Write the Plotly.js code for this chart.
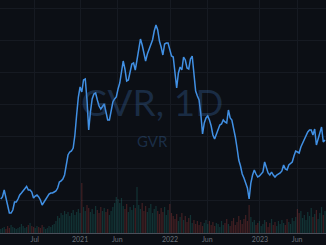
<!DOCTYPE html>
<html>
<head>
<meta charset="utf-8">
<script src="https://cdn.plot.ly/plotly-3.0.1.min.js"></script>
<style>html,body{margin:0;padding:0;background:#0c0f15;}#chart{width:326px;height:245px;}</style>
</head>
<body>
<div id="chart"></div>
<script>
// Weekly closes of GVR (thousand VND), starting 2020-02-14
var startDate = '2020-02-14';
var closes = [
8.2,8.6,10.0,8.6,7.0,5.4,5.4,6.0,7.6,7.6,
8.2,9.0,9.4,9.8,10.2,10.7,10.0,10.0,9.6,8.4,
8.8,9.0,8.6,8.0,7.0,7.6,8.2,8.8,9.2,9.4,
9.4,9.6,9.8,10.4,11.6,11.8,12.2,13.0,14.8,17.0,
17.6,17.8,18.4,21.0,25.0,28.6,30.6,29.6,32.0,32.2,
28.0,22.0,25.6,28.2,29.2,29.4,28.0,26.8,26.2,26.6,
27.2,25.6,24.0,24.0,26.0,27.6,28.2,28.6,30.2,31.4,
33.6,35.8,34.2,31.8,32.0,34.0,35.2,35.4,34.0,36.0,
38.2,40.2,39.0,37.4,35.8,37.2,38.2,39.2,40.0,41.8,
43.0,42.0,39.8,38.6,37.0,39.2,39.4,39.4,38.2,36.8,
36.6,33.0,30.4,33.4,34.6,34.0,36.6,36.0,34.4,34.2,
36.2,36.8,32.8,29.8,28.8,28.0,25.2,21.2,23.4,24.4,
24.8,24.0,22.8,21.0,20.2,21.2,22.2,23.0,23.2,24.0,
23.6,23.4,26.0,24.4,24.0,22.6,20.6,18.4,16.0,14.8,
13.2,12.4,11.4,10.4,8.2,11.4,13.0,14.0,13.2,12.6,
12.8,13.2,13.6,15.6,14.4,13.4,13.0,13.6,13.0,12.6,
13.0,13.2,13.4,13.8,15.0,14.2,14.0,15.0,15.4,15.6,
16.8,17.8,17.6,17.4,18.6,19.4,20.2,21.0,21.6,22.0,
22.0,21.0,22.2,19.0,20.4,21.8,22.6,19.6,20.0
];
// Weekly volume (relative units)
var volumes = [
4,5,6,4,7,5,8,6,5,4,
5,6,9,7,5,6,8,10,7,6,
5,7,6,5,8,6,4,5,7,6,
8,9,12,17,15,20,18,22,19,21,
17,20,23,18,21,24,20,50,26,22,
28,25,21,24,19,27,23,20,26,22,
25,21,24,18,22,26,30,36,34,30,
35,27,24,29,21,26,23,28,25,46,
28,24,30,22,27,21,25,29,20,24,
27,22,19,25,21,26,18,23,29,20,
17,14,19,12,16,20,13,17,11,15,
18,10,13,9,12,8,11,7,10,13,
9,12,8,11,7,10,9,6,12,8,
10,14,9,7,12,15,8,11,17,13,
9,14,18,12,28,16,11,13,8,10,
12,7,9,13,11,6,10,14,8,11,
7,12,9,13,10,8,14,11,9,15,
12,16,24,20,22,15,18,13,21,17,
25,16,19,23,14,20,26,18,22
];
var tickDates = ['2020-07-01','2021-01-01','2021-06-01','2022-01-01','2022-06-01','2023-01-01','2023-06-01'];
var tickLabels = ['Jul','2021','Jun','2022','Jun','2023','Jun'];
var watermarkMain = 'GVR, 1D';
var watermarkSub = 'GVR';

var dates = [];
var t0 = new Date(startDate + 'T00:00:00Z').getTime();
for (var i = 0; i < closes.length; i++) {
  dates.push(new Date(t0 + i * 7 * 86400000).toISOString().slice(0, 10));
}
var volColors = closes.map(function (c, i) {
  var up = i === 0 ? true : c >= closes[i - 1];
  return up ? 'rgba(38,166,154,0.24)' : 'rgba(239,83,80,0.24)';
});

var traces = [
  {type: 'bar', x: dates, y: volumes, yaxis: 'y2', marker: {color: volColors, line: {width: 0}}, hoverinfo: 'skip'},
  {type: 'scatter', mode: 'lines', x: dates, y: closes, line: {color: '#4190e4', width: 1.5}, hoverinfo: 'skip'}
];

var layout = {
  width: 326, height: 245,
  margin: {l: 0, r: 0, t: 0, b: 12},
  paper_bgcolor: '#0c0f15', plot_bgcolor: '#0c0f15',
  showlegend: false,
  bargap: 0.3,
  font: {family: 'Lato, "Open Sans", sans-serif', color: '#6a6f7b', size: 7},
  xaxis: {
    type: 'date', range: ['2020-02-11', '2023-09-26'],
    tickmode: 'array', tickvals: tickDates, ticktext: tickLabels,
    showgrid: true, gridcolor: '#161a22', gridwidth: 1,
    showline: true, linecolor: '#4a4f5a', linewidth: 1,
    ticks: '', zeroline: false, fixedrange: true,
    tickfont: {size: 7, color: '#6a6f7b'}
  },
  yaxis: {
    range: [1.4, 48], tick0: 8, dtick: 6.4,
    showgrid: true, gridcolor: '#161a22', gridwidth: 1,
    showticklabels: false, zeroline: false, showline: false, ticks: ''
  },
  yaxis2: {
    overlaying: 'y', range: [0, 233], visible: false, showgrid: false, zeroline: false
  },
  annotations: [
    {text: watermarkMain, xref: 'paper', yref: 'paper', x: 0.466, y: 0.565, xanchor: 'center', yanchor: 'middle',
     showarrow: false, font: {size: 37, color: 'rgba(62,120,190,0.28)', family: 'Lato, "Open Sans", sans-serif'}},
    {text: watermarkSub, xref: 'paper', yref: 'paper', x: 0.469, y: 0.395, xanchor: 'center', yanchor: 'middle',
     showarrow: false, font: {size: 15, color: 'rgba(62,120,190,0.3)', family: 'Lato, "Open Sans", sans-serif'}}
  ]
};

Plotly.newPlot('chart', traces, layout, {staticPlot: true, displayModeBar: false});
</script>
</body>
</html>
